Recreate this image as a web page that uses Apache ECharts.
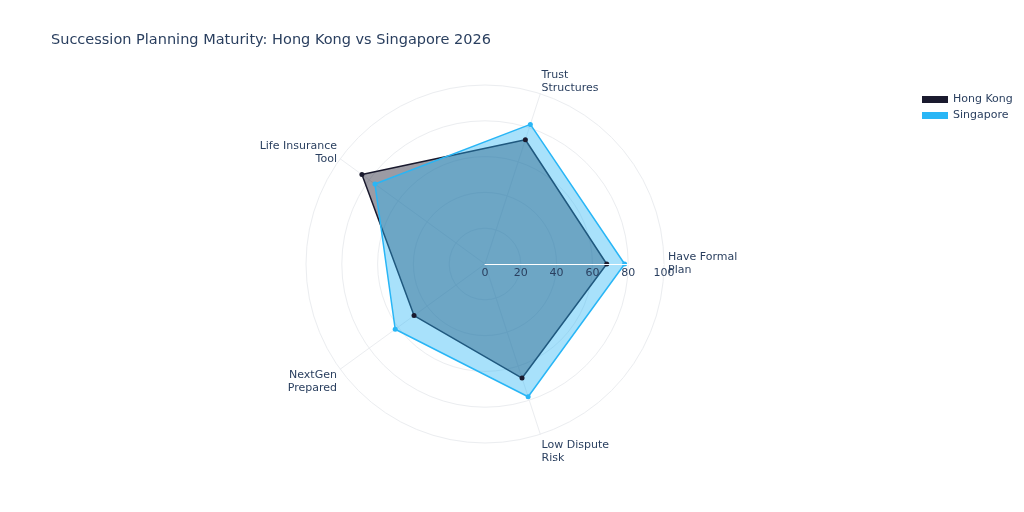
<!DOCTYPE html>
<html>
<head>
<meta charset="utf-8">
<script src="https://cdn.jsdelivr.net/npm/echarts@6/dist/echarts.min.js"></script>
<style>html,body{margin:0;padding:0;background:#fff}#c{width:1024px;height:512px}</style>
</head>
<body>
<div id="c"></div>
<script>
var categories = ['Have Formal\nPlan', 'Trust\nStructures', 'Life Insurance\nTool', 'NextGen\nPrepared', 'Low Dispute\nRisk'];
var hongKong = [68, 73, 85, 49, 67];
var singapore = [78, 82, 76, 62, 78];
var radialTicks = [0, 20, 40, 60, 80, 100];

// extra spacing between each category label and the outer circle
var labelSpacing = [0, 16, 8, 20, 28];

var txt = '#2a3f5f';
var font = 'DejaVu Sans, Verdana, sans-serif';
var chart = echarts.init(document.getElementById('c'));
chart.setOption({
  backgroundColor: '#fff',
  animation: false,
  title: {
    text: 'Succession Planning Maturity: Hong Kong vs Singapore 2026',
    left: 46, top: 28,
    textStyle: {color: txt, fontSize: 14.5, fontWeight: 'normal', fontFamily: font}
  },
  legend: {
    orient: 'vertical', left: 917, top: 89, itemGap: 5,
    itemWidth: 26, itemHeight: 7, icon: 'rect',
    textStyle: {color: txt, fontSize: 11, fontFamily: font},
    data: ['Hong Kong', 'Singapore']
  },
  radar: {
    center: [485, 264], radius: 179, startAngle: 0, shape: 'circle', splitNumber: 5,
    nameGap: 4,
    axisName: {
      color: txt, fontSize: 11, fontFamily: font, lineHeight: 13,
      formatter: function (value) {
        var i = categories.indexOf(value);
        var a = i * 2 * Math.PI / categories.length;
        var s = Math.sin(a);
        var g = labelSpacing[i] || 0;
        var body = value.split('\n').map(function (l) { return '{n|' + l + '}'; }).join('\n');
        if (s > 0.1) return body + '\n{g' + g + '| }';
        if (s < -0.1) return '{g' + g + '| }\n' + body;
        return body;
      },
      rich: (function () {
        var r = {n: {color: txt, fontSize: 11, fontFamily: font, lineHeight: 13}};
        for (var k = 0; k <= 40; k++) r['g' + k] = {fontSize: 1, lineHeight: k};
        return r;
      })()
    },
    indicator: categories.map(function (c) { return {name: c, min: 0, max: 100}; }),
    splitLine: {lineStyle: {color: '#ebedf0', width: 1}},
    splitArea: {show: false},
    axisLine: {lineStyle: {color: '#ebedf0', width: 1}},
    axisTick: {show: false},
    axisLabel: {show: false}
  },
  polar: {center: [485, 264], radius: 179},
  angleAxis: {type: 'value', min: 0, max: 360, startAngle: 0, show: false},
  radiusAxis: {
    type: 'value', min: radialTicks[0], max: radialTicks[radialTicks.length - 1], interval: 20,
    z: 10,
    axisLine: {show: true, lineStyle: {color: '#ffffff', width: 1}},
    axisTick: {show: false},
    splitLine: {show: false},
    axisLabel: {color: txt, fontSize: 11, fontFamily: font, margin: -4, verticalAlign: 'top'}
  },
  series: [{
    type: 'radar',
    symbol: 'circle', symbolSize: 5,
    data: [
      {
        name: 'Hong Kong', value: hongKong,
        itemStyle: {color: '#1a1a2e'},
        lineStyle: {color: '#1a1a2e', width: 1.5},
        areaStyle: {color: 'rgba(26,26,46,0.62)'}
      },
      {
        name: 'Singapore', value: singapore,
        itemStyle: {color: '#29b6f6'},
        lineStyle: {color: '#29b6f6', width: 1.5},
        areaStyle: {color: 'rgba(41,182,246,0.58)'}
      }
    ]
  }]
});
</script>
</body>
</html>
